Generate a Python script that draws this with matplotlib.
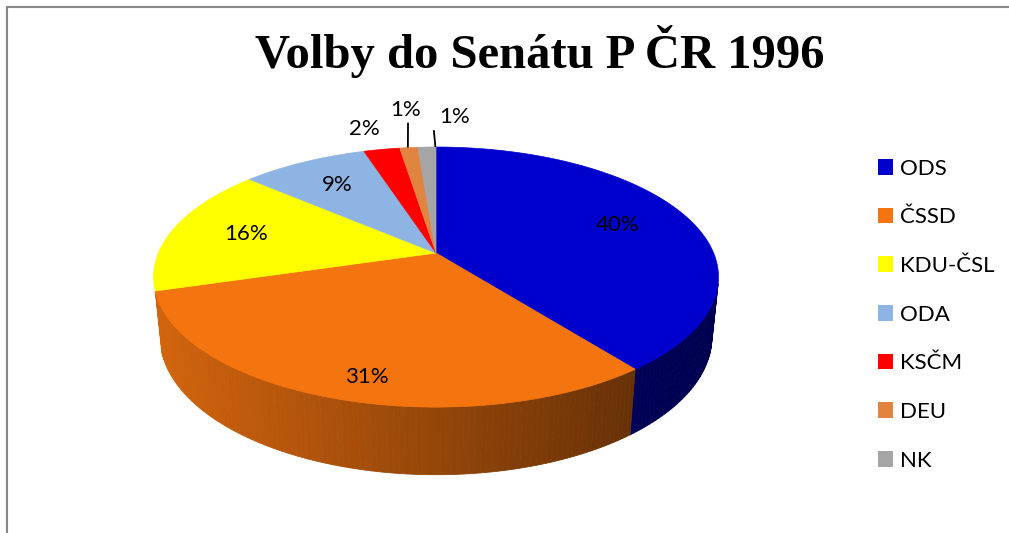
import matplotlib.pyplot as plt
import numpy as np
from matplotlib.patches import Polygon, Patch
from matplotlib.colors import to_rgb
from matplotlib.lines import Line2D

# Senate seats 1996 (percent labels come from these)
parties = ['ODS', 'ČSSD', 'KDU-ČSL', 'ODA', 'KSČM', 'DEU', 'NK']
seats = [32, 25, 13, 7, 2, 1, 1]
colors = ['#0000CC', '#F4740F', '#FFFF00', '#8EB4E3', '#FF0000', '#E0843F', '#A5A5A5']

plt.rcParams['font.family'] = ['Lato', 'DejaVu Sans']

# perspective of the tilted pie
cx, cy = 436, 253
phi = np.radians(26.9)
dist = 4.82
focal = 1338
depth = 0.243


def project(r, theta, y=0.0):
    X = r * np.sin(theta)
    Z = r * np.cos(theta)
    d = dist - y * np.sin(phi) + Z * np.cos(phi)
    up = y * np.cos(phi) + Z * np.sin(phi)
    return cx + X * focal / d, cy - up * focal / d


def shade(x):
    return np.interp(x, [160, 640, 720], [0.86, 0.42, 0.39])


fig = plt.figure(figsize=(10.09, 5.33), dpi=100)
ax = fig.add_axes([0, 0, 1, 1])
ax.set_xlim(0, 1009)
ax.set_ylim(533, 0)
ax.axis('off')

total = sum(seats)
bounds = np.concatenate([[0], np.cumsum(seats)]) / total * 2 * np.pi
lo = np.arccos(-1 / (dist * np.cos(phi)))
hi = 2 * np.pi - lo

# side walls
for i in range(len(seats)):
    a, b = max(bounds[i], lo), min(bounds[i + 1], hi)
    if b - a < np.radians(5):
        continue
    th = np.linspace(a, b, max(int(np.degrees(b - a)), 2) + 1)
    base = np.array(to_rgb(colors[i]))
    for t0, t1 in zip(th[:-1], th[1:]):
        pts = [project(1, t0), project(1, t1),
               project(1, t1, -depth), project(1, t0, -depth)]
        xm = np.mean([p[0] for p in pts])
        c = base * shade(xm)
        ax.add_patch(Polygon(pts, closed=True, facecolor=c, edgecolor=c, lw=0.6))

# top faces
for i in range(len(seats)):
    th = np.linspace(bounds[i], bounds[i + 1], max(int(np.degrees(bounds[i + 1] - bounds[i])), 2) + 1)
    pts = [(cx, cy)] + [project(1, t) for t in th]
    ax.add_patch(Polygon(pts, closed=True, facecolor=colors[i], edgecolor=colors[i], lw=0.5))

# labels
outside = {'KSČM': (-17, -20, False), 'DEU': (-3, -38, True), 'NK': (28, -30, True)}
for i, name in enumerate(parties):
    pct = '%d%%' % round(100 * seats[i] / total)
    mid = (bounds[i] + bounds[i + 1]) / 2
    if name in outside:
        ex, ey = project(1, mid)
        dx, dy, line = outside[name]
        ax.text(ex + dx, ey + dy, pct, fontsize=16, ha='center', va='center')
        if line:
            ax.plot([ex + 0.3 * dx, ex + 0.25 * dx], [ey - 1, ey + dy + 14], color='black', lw=1.3)
    else:
        lx, ly = project(0.72, mid, -depth * 0.4 * max(0, -np.cos(mid)))
        ax.text(lx, ly, pct, fontsize=16, ha='center', va='center')

ax.text(540, 52, 'Volby do Senátu P ČR 1996', fontsize=35, fontweight='bold',
        family='Liberation Serif', ha='center', va='center')

handles = [Patch(facecolor=c, edgecolor='none') for c in colors]
ax.legend(handles, parties, loc='upper left', bbox_to_anchor=(0.850, 0.740),
          frameon=False, fontsize=16, handlelength=0.7, handleheight=0.7,
          handletextpad=0.3, labelspacing=1.29)

# chart area border (only top and left show)
fig.add_artist(Line2D([7 / 1009, 1], [1 - 7 / 533, 1 - 7 / 533], color='#888888', lw=1.5))
fig.add_artist(Line2D([7 / 1009, 7 / 1009], [0, 1 - 7 / 533], color='#888888', lw=1.5))

fig.savefig('out.png', dpi=100)
